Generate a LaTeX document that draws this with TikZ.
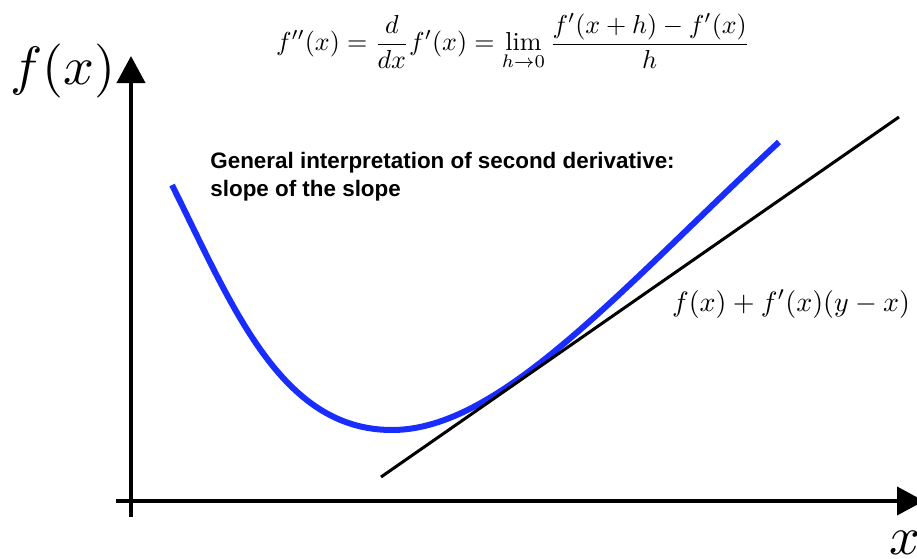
\documentclass[tikz,border=0pt]{standalone}
\usepackage{fontspec}
\usepackage{amsmath}
\newfontfamily\arialfont{Liberation Sans}
\usetikzlibrary{arrows.meta}
\definecolor{curveblue}{RGB}{25,45,255}
\tikzset{
  axis/.style={line width=2pt, -{Triangle[length=13.5pt,width=14pt]}},
  curve/.style={curveblue, line width=3pt},
  tangent/.style={black, line width=1.5pt},
  bigmath/.style={inner sep=0pt, scale=2.7},
  note/.style={font=\arialfont\bfseries\fontsize{11.2}{14}\selectfont, align=left, inner sep=0pt, anchor=north west}
}
\begin{document}
\begin{tikzpicture}[x=0.5pt, y=-0.5pt]
\useasboundingbox (0,0) rectangle (917,558);
% axes
\coordinate (yb) at (131,517);
\coordinate (yt) at (131,56);
\coordinate (xl) at (116,501);
\coordinate (xr) at (924,501);
\draw[axis] (yb) -- (yt);
\draw[axis] (xl) -- (xr);
\node[bigmath] (fx) at (63,71) {$f(x)$};
\node[bigmath] (xlab) at (905,543) {$x$};
% formula
\node[inner sep=0pt, scale=1.3] (formula) at (513,42) {$\displaystyle f''(x)=\frac{d}{dx}f'(x)=\lim_{h\to0}\frac{f'(x+h)-f'(x)}{h}$};
% note
\node[note] (note) at (210,152) {General interpretation of second derivative:\\slope of the slope};
% curve
\coordinate (c0) at (172,185);
\coordinate (cmin) at (392,430);
\coordinate (c1) at (779,142);
\draw[curve] (c0) .. controls (232,305) and (280,430) .. (cmin)
  .. controls (500,430) and (620,290) .. (c1);
% tangent
\coordinate (t1) at (381,477);
\coordinate (t2) at (899,117);
\draw[tangent] (t1) -- (t2);
\node[inner sep=0pt, scale=1.4] (tlab) at (791,304) {$f(x)+f'(x)(y-x)$};
\end{tikzpicture}
\end{document}
